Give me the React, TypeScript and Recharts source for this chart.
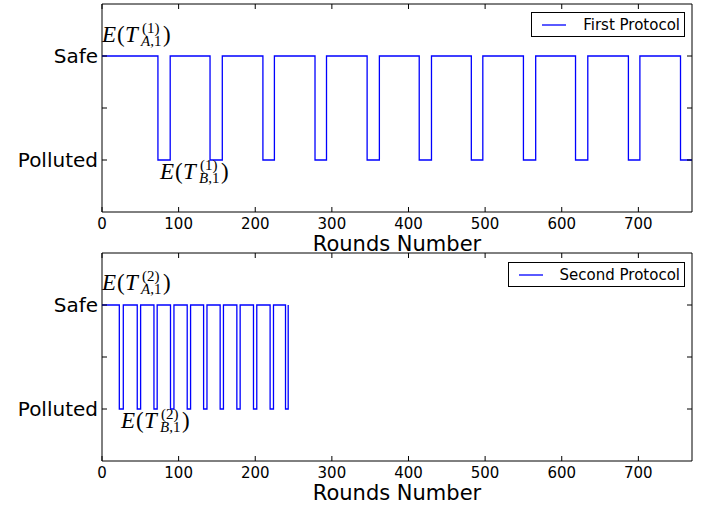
import { LineChart, Line, XAxis, YAxis, ReferenceArea, ReferenceDot, Legend, Label } from 'recharts';

const SAFE = 1;
const POLLUTED = 0;

const roundTicks = [0, 100, 200, 300, 400, 500, 600, 700];
const stateTicks = [POLLUTED, 0.5, SAFE];
const stateLabels: Record<number, string> = { [SAFE]: 'Safe', [POLLUTED]: 'Polluted' };

// rounds where the state flips
const firstPollutedAt = [73, 141, 210, 278, 346, 414, 482, 550, 618, 687, 755];
const firstRecoveredAt = [89, 157, 225, 293, 362, 430, 497, 566, 634, 702];
const firstLastRound = 770;

const secondPollutedAt = [22.6, 46, 67.8, 89.4, 111.2, 132.6, 154.2, 176, 197.7, 219.4, 239.5];
const secondRecoveredAt = [27.8, 50.4, 72, 93.9, 115.6, 137, 158.5, 180.3, 202, 223.8, 243];

// where the E(T) notes sit, in round / state units
const firstNotes = [
  { round: 0, state: 1.13, sub: 'A', sup: '1' },
  { round: 75.7, state: -0.18, sub: 'B', sup: '1' },
];
const secondNotes = [
  { round: 0, state: 1.145, sub: 'A', sup: '2' },
  { round: 24.8, state: -0.185, sub: 'B', sup: '2' },
];

const W = 710;
const H = 258;
const PLOT_W = 590;
const PLOT_H = 208;
const AXIS_H = 42;
const SANS = '"DejaVu Sans", sans-serif';
const SERIF = '"Liberation Serif", "DejaVu Serif", serif';

function buildSteps(pollutedAt: number[], recoveredAt: number[], lastRound?: number) {
  const pts = [{ round: 0, state: SAFE }];
  pollutedAt.forEach((r, i) => {
    pts.push({ round: r, state: POLLUTED });
    if (recoveredAt[i] !== undefined) pts.push({ round: recoveredAt[i], state: SAFE });
  });
  if (lastRound !== undefined) pts.push({ round: lastRound, state: pts[pts.length - 1].state });
  return pts;
}

function RoundTick({ x, y, payload }: any) {
  return (
    <g>
      <line x1={x} x2={x} y1={y} y2={y - 5} stroke="#000" />
      <line x1={x} x2={x} y1={y - PLOT_H} y2={y - PLOT_H + 5} stroke="#000" />
      <text x={x} y={y + 16.5} textAnchor="middle" fontSize={15} fontFamily={SANS} fill="#000">
        {payload.value}
      </text>
    </g>
  );
}

function StateTick({ x, y, payload }: any) {
  const label = stateLabels[payload.value] ?? '';
  return (
    <g>
      <line x1={x} x2={x + 5} y1={y} y2={y} stroke="#000" />
      <line x1={x + PLOT_W} x2={x + PLOT_W - 5} y1={y} y2={y} stroke="#000" />
      {label && (
        <text x={x - 4} y={y + 7} textAnchor="end" fontSize={20} fontFamily={SANS} fill="#000">
          {label}
        </text>
      )}
    </g>
  );
}

// E(T^{(k)}_{X,1}) drawn with tspans, cx/cy = start of E on the baseline
function MathNote({ cx, cy, sub, sup }: any) {
  return (
    <text fontFamily={SERIF} fill="#000">
      <tspan x={cx} y={cy} fontSize={23} fontStyle="italic">E</tspan>
      <tspan x={cx + 15} y={cy} fontSize={23}>(</tspan>
      <tspan x={cx + 23} y={cy} fontSize={23} fontStyle="italic">T</tspan>
      <tspan x={cx + 40} y={cy - 9} fontSize={15}>({sup})</tspan>
      <tspan x={cx + 39} y={cy + 4} fontSize={15} fontStyle="italic">{sub}</tspan>
      <tspan fontSize={15}>,1</tspan>
      <tspan x={cx + 61} y={cy} fontSize={23}>)</tspan>
    </text>
  );
}

function LegendBox({ payload }: any) {
  const item = payload?.[0];
  return (
    <div
      style={{
        display: 'flex',
        alignItems: 'center',
        height: 23,
        border: '1px solid #000',
        background: '#fff',
        paddingLeft: 10,
        paddingRight: 4,
        fontFamily: SANS,
        fontSize: 15,
        whiteSpace: 'nowrap',
      }}
    >
      <svg width={24} height={4} style={{ marginRight: 17 }}>
        <line x1={0} x2={24} y1={2} y2={2} stroke={item?.color ?? '#0000ff'} strokeWidth={1.3} />
      </svg>
      <span>{item?.value}</span>
    </div>
  );
}

function StatePanel({ data, name, notes, top, legendTop }: any) {
  return (
    <div style={{ position: 'absolute', left: 0, top }}>
      <LineChart
        width={W}
        height={H}
        data={data}
        margin={{ top: 4, right: W - 102 - PLOT_W, bottom: H - 4 - PLOT_H - AXIS_H, left: 0 }}
      >
        <XAxis
          dataKey="round"
          type="number"
          domain={[0, 770]}
          allowDataOverflow
          ticks={roundTicks}
          interval={0}
          height={AXIS_H}
          axisLine={false}
          tickLine={false}
          tickSize={0}
          tickMargin={0}
          tick={<RoundTick />}
        >
          <Label
            content={({ viewBox }: any) => (
              <text
                x={viewBox.x + viewBox.width / 2}
                y={viewBox.y + 39}
                textAnchor="middle"
                fontSize={21}
                fontFamily={SANS}
                fill="#000"
              >
                Rounds Number
              </text>
            )}
          />
        </XAxis>
        <YAxis
          type="number"
          domain={[-0.5, 1.5]}
          ticks={stateTicks}
          interval={0}
          width={102}
          axisLine={false}
          tickLine={false}
          tickSize={0}
          tickMargin={0}
          tick={<StateTick />}
        />
        <ReferenceArea x1={0} x2={770} y1={-0.5} y2={1.5} fill="none" stroke="#000" strokeWidth={1} />
        <Line
          type="stepAfter"
          dataKey="state"
          name={name}
          stroke="#0000ff"
          strokeWidth={1.3}
          dot={false}
          activeDot={false}
          isAnimationActive={false}
        />
        {notes.map((n: any) => (
          <ReferenceDot
            key={n.sub}
            x={n.round}
            y={n.state}
            r={0}
            ifOverflow="visible"
            shape={(p: any) => <MathNote cx={p.cx} cy={p.cy} sub={n.sub} sup={n.sup} />}
          />
        ))}
        <Legend
          layout="vertical"
          align="center"
          verticalAlign="middle"
          content={<LegendBox />}
          wrapperStyle={{ right: 25, top: legendTop, left: 'auto', width: 'auto' }}
        />
      </LineChart>
    </div>
  );
}

export default function App() {
  const first = buildSteps(firstPollutedAt, firstRecoveredAt, firstLastRound);
  const second = buildSteps(secondPollutedAt, secondRecoveredAt);
  return (
    <div style={{ position: 'absolute', left: 0, top: 0, width: W, height: 508, background: '#fff' }}>
      <StatePanel data={first} name="First Protocol" notes={firstNotes} top={0} legendTop={12} />
      <StatePanel data={second} name="Second Protocol" notes={secondNotes} top={249} legendTop={13} />
    </div>
  );
}
